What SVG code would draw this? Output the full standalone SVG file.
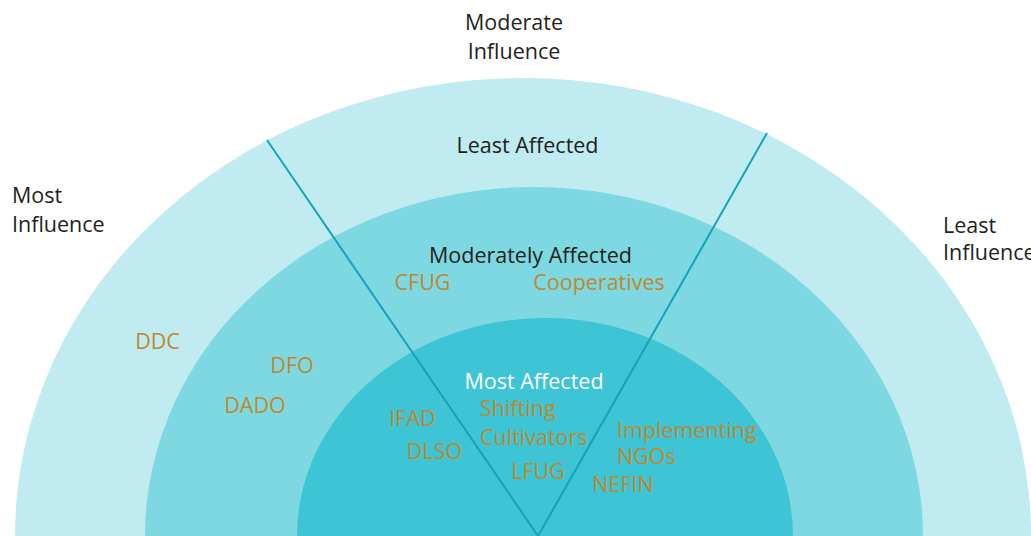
<svg xmlns="http://www.w3.org/2000/svg" width="1031" height="536" viewBox="0 0 1031 536">
<style>
text{font-family:"Open Sans","Liberation Sans",sans-serif;font-size:21.5px}
.dark{fill:#231f20}
.white{fill:#ffffff}
.org{fill:#c0882e}
.mid{text-anchor:middle}
.line{stroke:#14a3bc;stroke-width:2;fill:none}
</style>
<rect width="1031" height="536" fill="#ffffff"/>
<g id="zone-least">
<ellipse cx="523" cy="536" rx="508" ry="458" fill="#c0ebf0"/>
</g>
<g id="zone-moderate">
<ellipse cx="534" cy="536" rx="389" ry="349" fill="#7ed8e2"/>
</g>
<g id="zone-most">
<ellipse cx="545" cy="536" rx="248" ry="218" fill="#3dc4d5"/>
</g>
<g id="connectors">
<line class="line" x1="267" y1="140" x2="538" y2="536"/>
<line class="line" x1="767" y1="133" x2="538" y2="536"/>
</g>
<g id="axis-moderate-influence">
<text class="dark mid" x="514" y="30">Moderate</text>
<text class="dark mid" x="514" y="59">Influence</text>
</g>
<g id="axis-most-influence">
<text class="dark" x="12" y="203">Most</text>
<text class="dark" x="12" y="232">Influence</text>
</g>
<g id="axis-least-influence">
<text class="dark" x="943" y="233">Least</text>
<text class="dark" x="943" y="260">Influence</text>
</g>
<g id="label-least-affected">
<text class="dark mid" x="527.5" y="153">Least Affected</text>
</g>
<g id="label-moderately-affected">
<text class="dark mid" x="530.5" y="263">Moderately Affected</text>
</g>
<g id="label-most-affected">
<text class="white mid" x="534" y="389">Most Affected</text>
</g>
<g id="cfug"><text class="org mid" x="422.5" y="290">CFUG</text></g>
<g id="cooperatives"><text class="org mid" x="599" y="290">Cooperatives</text></g>
<g id="ddc"><text class="org mid" x="157.5" y="349">DDC</text></g>
<g id="dfo"><text class="org mid" x="292" y="373">DFO</text></g>
<g id="dado"><text class="org mid" x="255" y="413">DADO</text></g>
<g id="ifad"><text class="org mid" x="412.5" y="426">IFAD</text></g>
<g id="dlso"><text class="org mid" x="434.5" y="459">DLSO</text></g>
<g id="shifting-cultivators">
<text class="org" x="480" y="416">Shifting</text>
<text class="org" x="480" y="445">Cultivators</text>
</g>
<g id="lfug"><text class="org mid" x="538" y="479">LFUG</text></g>
<g id="implementing-ngos">
<text class="org" x="617" y="438">Implementing</text>
<text class="org" x="617" y="464">NGOs</text>
</g>
<g id="nefin"><text class="org mid" x="623" y="492">NEFIN</text></g>
</svg>
